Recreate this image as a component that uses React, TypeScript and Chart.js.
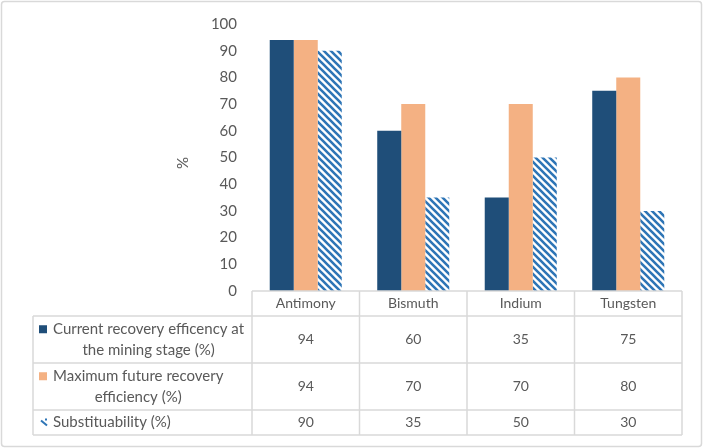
import React, { useEffect, useRef } from "react";
import { Chart, registerables } from "chart.js";

Chart.register(...registerables);

const categories = ["Antimony", "Bismuth", "Indium", "Tungsten"];
const currentRecovery = [94, 60, 35, 75];
const maxFutureRecovery = [94, 70, 70, 80];
const substituability = [90, 35, 50, 30];
const seriesLabels = [
  "Current recovery efficency at the mining stage (%)",
  "Maximum future recovery efficiency (%)",
  "Substituability (%)",
];
const seriesLabelLines = [
  ["Current recovery efficency at", "the mining stage (%)"],
  ["Maximum future recovery", "efficiency (%)"],
  ["Substituability (%)"],
];
const yTicks = [0, 10, 20, 30, 40, 50, 60, 70, 80, 90, 100];
const yAxisTitle = "%";

const DARK = "#1F4E79";
const PEACH = "#F4B183";
const HATCH = "#2E75B6";
const TEXT = "#595959";
const LINE = "#D9D9D9";
const FONT = "Lato, 'Open Sans', sans-serif";

function makeHatch(): CanvasPattern | string {
  const s = 7;
  const c = document.createElement("canvas");
  c.width = s;
  c.height = s;
  const g = c.getContext("2d");
  if (!g) return HATCH;
  g.fillStyle = "#ffffff";
  g.fillRect(0, 0, s, s);
  g.strokeStyle = HATCH;
  g.lineWidth = 2.6;
  g.beginPath();
  g.moveTo(-1, -1);
  g.lineTo(s + 1, s + 1);
  g.moveTo(-1 - s, -1);
  g.lineTo(1, s + 1);
  g.moveTo(s - 1, -1);
  g.lineTo(2 * s + 1, s + 1);
  g.stroke();
  const p = g.createPattern(c, "repeat");
  return p || HATCH;
}

const rowHeights = [47, 47, 25];
const headerHeight = 25;
const legendLeft = 33;

export default function App() {
  const ref = useRef<HTMLCanvasElement | null>(null);
  useEffect(() => {
    if (!ref.current) return;
    const hatch = makeHatch();
    const fills = [DARK, PEACH, hatch];

    const frame = {
      id: "frame",
      beforeDraw(chart: any) {
        const { ctx, width, height } = chart;
        ctx.save();
        ctx.fillStyle = "#ffffff";
        ctx.fillRect(0, 0, width, height);
        ctx.strokeStyle = LINE;
        ctx.lineWidth = 1.5;
        ctx.beginPath();
        (ctx as any).roundRect(1.5, 1.5, 700, 445, 3);
        ctx.stroke();
        ctx.restore();
      },
    };

    const table = {
      id: "dataTable",
      afterDraw(chart: any) {
        const { ctx, chartArea } = chart;
        const xs = chart.scales.x;
        const n = categories.length;
        const catW = (chartArea.right - chartArea.left) / n;
        const top = chartArea.bottom;
        const left = chartArea.left;
        const right = chartArea.right;
        const rowTops: number[] = [top + headerHeight];
        rowHeights.forEach((h, i) => rowTops.push(rowTops[i] + h));
        const bottom = rowTops[rowTops.length - 1];

        ctx.save();
        ctx.strokeStyle = LINE;
        ctx.lineWidth = 1.5;
        ctx.beginPath();
        ctx.moveTo(left, top);
        ctx.lineTo(right, top);
        rowTops.forEach((y) => {
          ctx.moveTo(legendLeft, y);
          ctx.lineTo(right, y);
        });
        for (let i = 0; i <= n; i++) {
          const x = left + i * catW;
          ctx.moveTo(x, top);
          ctx.lineTo(x, bottom);
        }
        ctx.moveTo(legendLeft, rowTops[0]);
        ctx.lineTo(legendLeft, bottom);
        ctx.stroke();

        ctx.fillStyle = TEXT;
        ctx.font = `14px ${FONT}`;
        ctx.textBaseline = "middle";
        ctx.textAlign = "center";
        categories.forEach((c, i) => {
          ctx.fillText(c, xs.getPixelForValue(i), top + headerHeight / 2);
        });
        const series = [currentRecovery, maxFutureRecovery, substituability];
        series.forEach((vals, r) => {
          const cy = (rowTops[r] + rowTops[r + 1]) / 2;
          ctx.font = `14px ${FONT}`;
          vals.forEach((v, i) => {
            ctx.fillStyle = TEXT;
            ctx.textAlign = "center";
            ctx.fillText(String(v), xs.getPixelForValue(i), cy);
          });
          ctx.font = `15px ${FONT}`;
          const lines = seriesLabelLines[r];
          const lh = 20.5;
          const textX = 53;
          const widest = Math.max(...lines.map((l) => ctx.measureText(l).width));
          lines.forEach((l, k) => {
            const y = cy + (k - (lines.length - 1) / 2) * lh;
            ctx.fillStyle = TEXT;
            ctx.textAlign = "center";
            ctx.fillText(l, textX + widest / 2, y);
            if (k === 0) {
              ctx.fillStyle = fills[r] as any;
              if (r === 2) {
                ctx.strokeStyle = HATCH;
                ctx.lineWidth = 2;
                ctx.beginPath();
                ctx.moveTo(41, y - 2);
                ctx.lineTo(47, y + 3);
                ctx.stroke();
                ctx.fillStyle = HATCH;
                ctx.fillRect(45, y - 4, 2, 2);
              } else {
                ctx.fillRect(39, y - 4, 8, 8);
              }
            }
          });
        });

        ctx.save();
        ctx.translate(183, 163);
        ctx.rotate(-Math.PI / 2);
        ctx.fillStyle = TEXT;
        ctx.textAlign = "center";
        ctx.textBaseline = "middle";
        ctx.font = `15px ${FONT}`;
        ctx.fillText(yAxisTitle, 0, 0);
        ctx.restore();
        ctx.restore();
      },
    };

    const chart = new Chart(ref.current, {
      type: "bar",
      data: {
        labels: categories,
        datasets: [
          { label: seriesLabels[0], data: currentRecovery, backgroundColor: DARK },
          { label: seriesLabels[1], data: maxFutureRecovery, backgroundColor: PEACH },
          { label: seriesLabels[2], data: substituability, backgroundColor: hatch as any },
        ],
      },
      options: {
        responsive: false,
        animation: false,
        devicePixelRatio: 1,
        layout: { padding: { left: 0, right: 23, top: 22, bottom: 157 } },
        datasets: { bar: { categoryPercentage: 0.67, barPercentage: 1 } } as any,
        plugins: { legend: { display: false }, tooltip: { enabled: false }, title: { display: false } },
        scales: {
          x: { display: false, offset: true },
          y: {
            min: 0,
            max: 100,
            afterFit: (s: any) => {
              s.width = 252;
            },
            afterBuildTicks: (s: any) => {
              s.ticks = yTicks.map((v) => ({ value: v }));
            },
            grid: { display: false, drawTicks: false },
            border: { display: false },
            ticks: { color: TEXT, font: { family: FONT, size: 15 }, padding: 15 },
          },
        },
      },
      plugins: [frame, table],
    });
    return () => chart.destroy();
  }, []);

  return (
    <div style={{ position: "absolute", left: 0, top: 0, width: 705, height: 448 }}>
      <canvas ref={ref} width={705} height={448} style={{ width: 705, height: 448 }} />
    </div>
  );
}
